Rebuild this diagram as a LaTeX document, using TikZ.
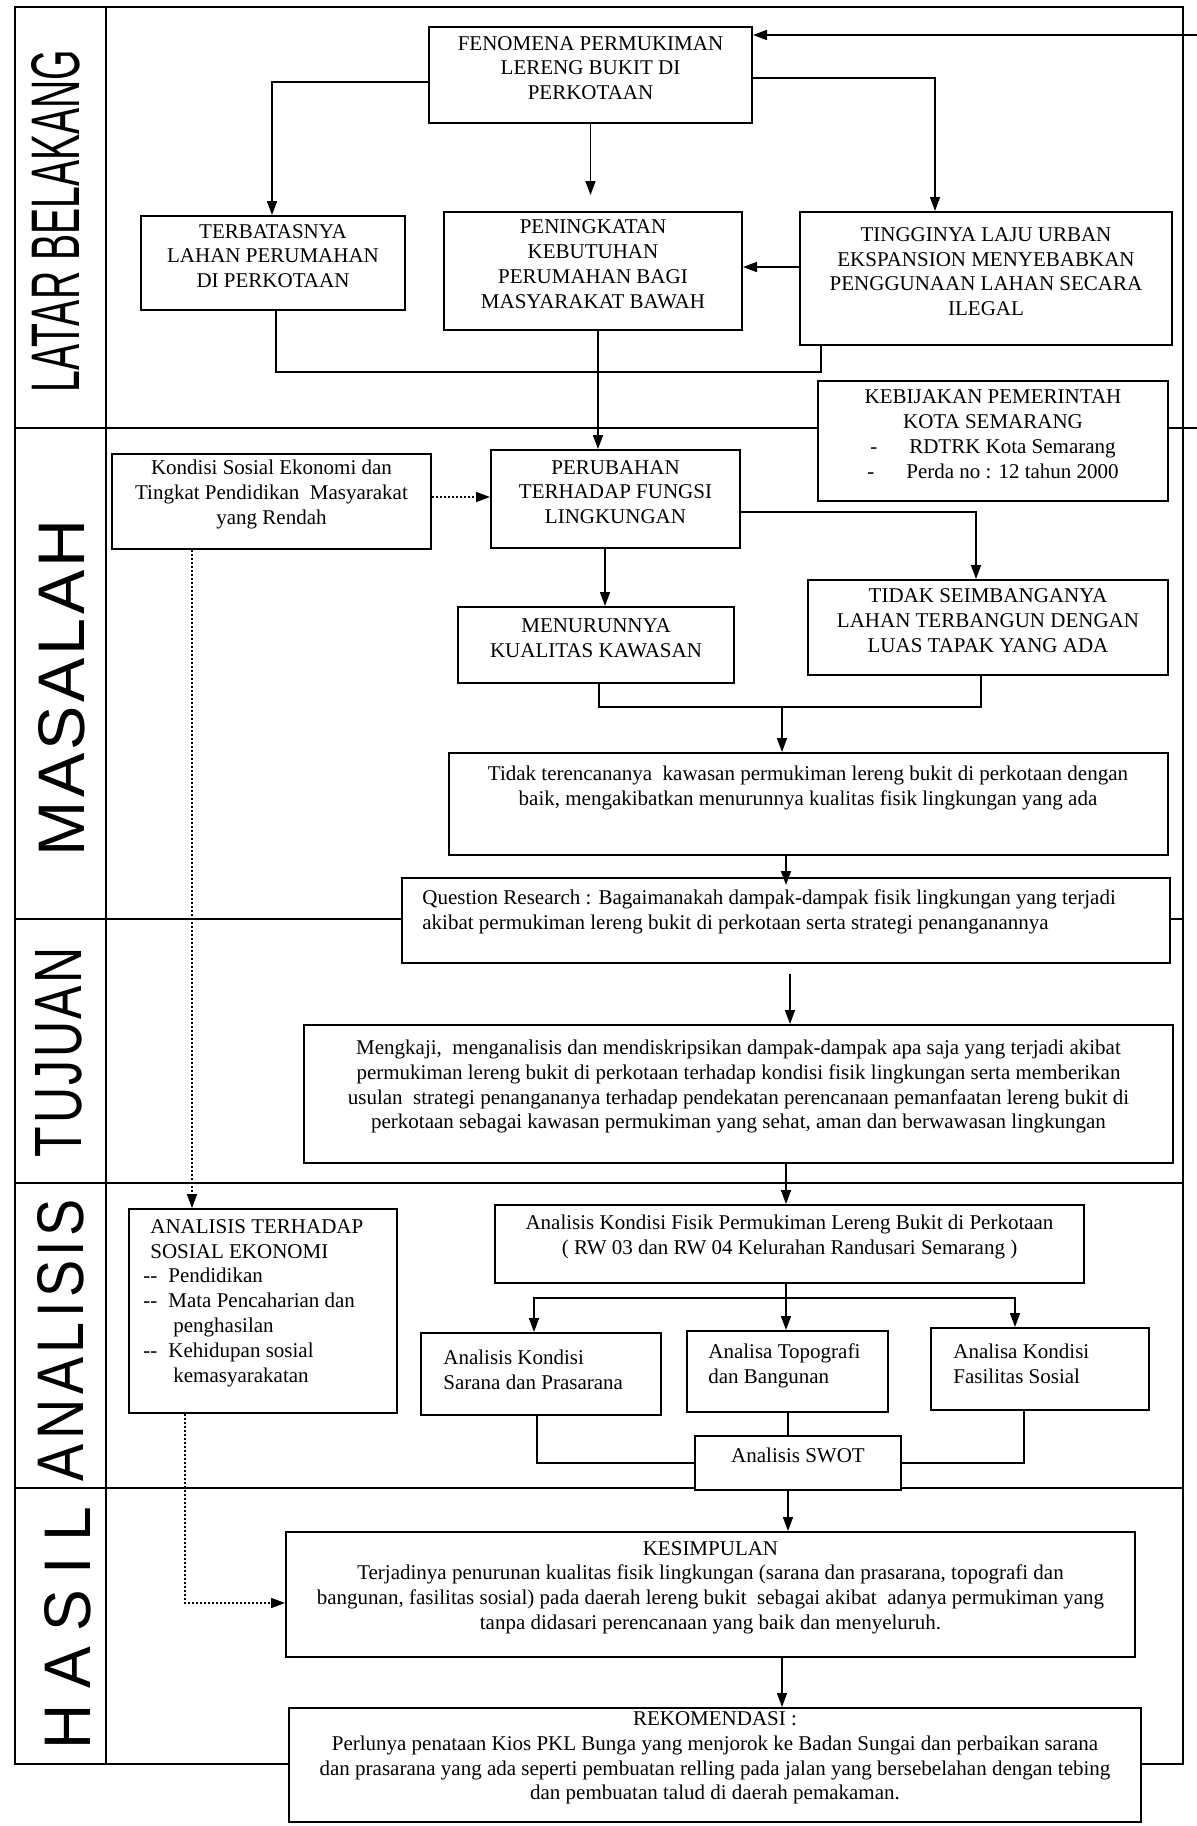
\documentclass[tikz,border=0pt]{standalone}
\usepackage{fontspec}
\setmainfont{Liberation Serif}
\newfontfamily\labelfont{Liberation Sans}
\usepackage{graphicx}
\usetikzlibrary{arrows.meta,fit,calc}
\begin{document}
\begin{tikzpicture}[x=0.5pt,y=-0.5pt,
  bx/.style={draw, line width=1pt, fill=white, inner sep=0pt, align=center, font=\fontsize{10.5}{12.4}\selectfont},
  txt/.style={inner sep=0pt, font=\fontsize{10.5}{12.4}\selectfont},
  frm/.style={line width=1pt},
  ln/.style={line width=0.8pt},
  arr/.style={line width=0.8pt, -{Triangle[length=7pt,width=5pt]}},
  dotarr/.style={line width=0.8pt, dash pattern=on 1pt off 1pt, -{Triangle[length=7pt,width=5pt]}},
  lbl/.style={rotate=90, inner sep=0pt}
]
\useasboundingbox (0,0) rectangle (1197,1826);
\clip (0,0) rectangle (1197,1826);
\fill[white] (0,0) rectangle (1197,1826);

% frame
\draw[frm] (15,7) rectangle (1183,1764);
\draw[frm] (106,7) -- (106,1764);
\draw[frm] (15,428) -- (1183,428);
\draw[frm] (15,919) -- (1183,919);
\draw[frm] (15,1183) -- (1183,1183);
\draw[frm] (15,1488) -- (1183,1488);

% section labels
\node[lbl] (lb1) at (56,221) {\resizebox{171pt}{24pt}{\labelfont LATAR BELAKANG}};
\node[lbl] (lb2) at (62,688) {\resizebox{168.5pt}{23pt}{\labelfont M\hspace{0.05em}A\hspace{0.05em}S\hspace{0.05em}A\hspace{0.05em}L\hspace{0.05em}A\hspace{0.05em}H}};
\node[lbl] (lb3) at (59,1052) {\resizebox{105pt}{23pt}{\labelfont T\hspace{0.05em}U\hspace{0.05em}J\hspace{0.05em}U\hspace{0.05em}A\hspace{0.05em}N}};
\node[lbl] (lb4) at (61,1340) {\resizebox{141pt}{23pt}{\labelfont A\hspace{0.08em}N\hspace{0.08em}A\hspace{0.08em}L\hspace{0.08em}I\hspace{0.08em}S\hspace{0.08em}I\hspace{0.08em}S}};
\node[lbl] (lb5) at (68,1628) {\resizebox{121.5pt}{23pt}{\labelfont H\hspace{0.25em}A\hspace{0.25em}S\hspace{0.25em}I\hspace{0.25em}L}};

% boxes
\node[bx, fit={(429,27)(752,123)}] (fen) {FENOMENA PERMUKIMAN\\LERENG BUKIT DI\\PERKOTAAN};
\node[bx, fit={(141,216)(405,310)}] (terb) {TERBATASNYA\\LAHAN PERUMAHAN\\DI PERKOTAAN};
\node[bx, fit={(444,212)(742,330)}] (pen) {PENINGKATAN\\KEBUTUHAN\\PERUMAHAN BAGI\\MASYARAKAT BAWAH};
\node[bx, fit={(800,212)(1172,345)}] (ting) {TINGGINYA LAJU URBAN\\EKSPANSION MENYEBABKAN\\PENGGUNAAN LAHAN SECARA\\ILEGAL};
\node[bx, fit={(818,381)(1168,501)}] (keb) {KEBIJAKAN PEMERINTAH\\KOTA SEMARANG\\\hspace*{0pt}-\hspace{16pt}RDTRK Kota Semarang\hspace*{16pt}\\\hspace*{0pt}-\hspace{16pt}Perda no : 12 tahun 2000\hspace*{16pt}};
\node[bx, fit={(112,454)(431,549)}] (kond) {Kondisi Sosial Ekonomi dan\\Tingkat Pendidikan\ \ Masyarakat\\yang Rendah};
\node[bx, fit={(491,450)(740,548)}] (per) {PERUBAHAN\\TERHADAP FUNGSI\\LINGKUNGAN};
\node[bx, fit={(458,607)(734,683)}] (men) {MENURUNNYA\\KUALITAS KAWASAN};
\node[bx, fit={(808,580)(1168,675)}] (tidak) {TIDAK SEIMBANGANYA\\LAHAN TERBANGUN DENGAN\\LUAS TAPAK YANG ADA};
\node[bx, fit={(449,753)(1168,855)}] (tt) {};
\node[txt, align=center] (ttx) at (808,788) {Tidak terencananya\ \ kawasan permukiman lereng bukit di perkotaan dengan\\baik, mengakibatkan menurunnya kualitas fisik lingkungan yang ada};
\node[bx, fit={(402,878)(1170,963)}] (qr) {};
\node[txt, align=left, anchor=west] (qrx) at (422,912) {Question Research : Bagaimanakah dampak-dampak fisik lingkungan yang terjadi\\akibat permukiman lereng bukit di perkotaan serta strategi penanganannya};
\node[bx, fit={(304,1025)(1173,1163)}] (mk) {Mengkaji,\ \ menganalisis dan mendiskripsikan dampak-dampak apa saja yang terjadi akibat\\permukiman lereng bukit di perkotaan terhadap kondisi fisik lingkungan serta memberikan\\usulan\ \ strategi penangananya terhadap pendekatan perencanaan pemanfaatan lereng bukit di\\perkotaan sebagai kawasan permukiman yang sehat, aman dan berwawasan lingkungan};
\node[bx, fit={(495,1205)(1084,1283)}] (akf) {Analisis Kondisi Fisik Permukiman Lereng Bukit di Perkotaan\\( RW 03 dan RW 04 Kelurahan Randusari Semarang )};
\node[bx, fit={(129,1209)(397,1413)}] (ats) {};
\node[txt, align=left, anchor=west] (atsx) at (143,1303) {\hspace*{3.5pt}ANALISIS TERHADAP\\\hspace*{3.5pt}SOSIAL EKONOMI\\\makebox[12.5pt][l]{{-}{-}}Pendidikan\\\makebox[12.5pt][l]{{-}{-}}Mata Pencaharian dan\\\hspace*{15pt}penghasilan\\\makebox[12.5pt][l]{{-}{-}}Kehidupan sosial\\\hspace*{15pt}kemasyarakatan};
\node[bx, fit={(421,1333)(661,1415)}] (sar) {};
\node[txt, align=left, anchor=west] (sarx) at (443,1370) {Analisis Kondisi\\Sarana dan Prasarana};
\node[bx, fit={(687,1331)(888,1412)}] (topo) {};
\node[txt, align=left, anchor=west] (topox) at (708,1366) {Analisa Topografi\\dan Bangunan};
\node[bx, fit={(931,1328)(1149,1410)}] (fas) {};
\node[txt, align=left, anchor=west] (fasx) at (953,1364) {Analisa Kondisi\\Fasilitas Sosial};
\node[bx, fit={(695,1436)(901,1490)}] (swot) {Analisis SWOT};
\node[bx, fit={(286,1532)(1135,1657)}] (kes) {KESIMPULAN\\Terjadinya penurunan kualitas fisik lingkungan (sarana dan prasarana, topografi dan\\bangunan, fasilitas sosial) pada daerah lereng bukit\ \ sebagai akibat\ \ adanya permukiman yang\\tanpa didasari perencanaan yang baik dan menyeluruh.};
\node[bx, fit={(289,1708)(1141,1822)}] (rek) {REKOMENDASI :\\Perlunya penataan Kios PKL Bunga yang menjorok ke Badan Sungai dan perbaikan sarana\\dan prasarana yang ada seperti pembuatan relling pada jalan yang bersebelahan dengan tebing\\dan pembuatan talud di daerah pemakaman.};

% junction coordinates
\coordinate (fbr) at (1215,35);
\coordinate (j1) at (782,707);
\coordinate (br) at (786,1298);

% connectors
\draw[arr] (fen.west |- 0,82) -| (terb.north -| 272,0);
\draw[arr, shorten >=8pt] (fen.south) -- (pen.north -| fen.south);
\draw[arr] (fen.east |- 0,78) -| (ting.north -| 935,0);
\draw[arr] (ting.west |- 0,267) -- (pen.east |- 0,267);
\draw[ln] (terb.south -| 276,0) |- (821,372) -- (ting.south -| 821,372);
\draw[arr] (pen.south -| 598,0) -- (per.north -| 598,0);
\draw[arr] (keb.east |- 0,428) -| (fbr) -- (fen.east |- fbr);
\draw[dotarr] (kond.east |- 0,497) -- (per.west |- 0,497);
\draw[arr] (per.east |- 0,512) -| (tidak.north -| 976,0);
\draw[arr] (per.south -| 605,0) -- (men.north -| 605,0);
\draw[ln] (men.south -| 599,0) |- (981,707) -- (tidak.south -| 981,0);
\draw[arr] (j1) -- (tt.north -| j1);
\draw[arr, shorten >=-4pt] (tt.south -| 786,0) -- (qr.north -| 786,0);
\draw[arr, shorten <=5pt] (qr.south -| 790,0) -- (mk.north -| 790,0);
\draw[arr] (mk.south -| 786,0) -- (akf.north -| 786,0);
\draw[arr] (akf.south -| br) -- (topo.north -| br);
\draw[arr] (br) -| (sar.north -| 534,0);
\draw[arr] (br) -| (fas.north -| 1015,0);
\draw[ln] (sar.south -| 537,0) |- (swot.west);
\draw[ln] (topo.south -| 788,0) -- (swot.north -| 788,0);
\draw[ln] (fas.south -| 1024,0) |- (swot.east);
\draw[arr] (swot.south -| 788,0) -- (kes.north -| 788,0);
\draw[arr] (kes.south -| 782,0) -- (rek.north -| 782,0);
\draw[dotarr] (kond.south -| 192,0) -- (ats.north -| 192,0);
\draw[dotarr] (ats.south -| 185,0) |- (kes.west |- 0,1603);
\end{tikzpicture}
\end{document}
